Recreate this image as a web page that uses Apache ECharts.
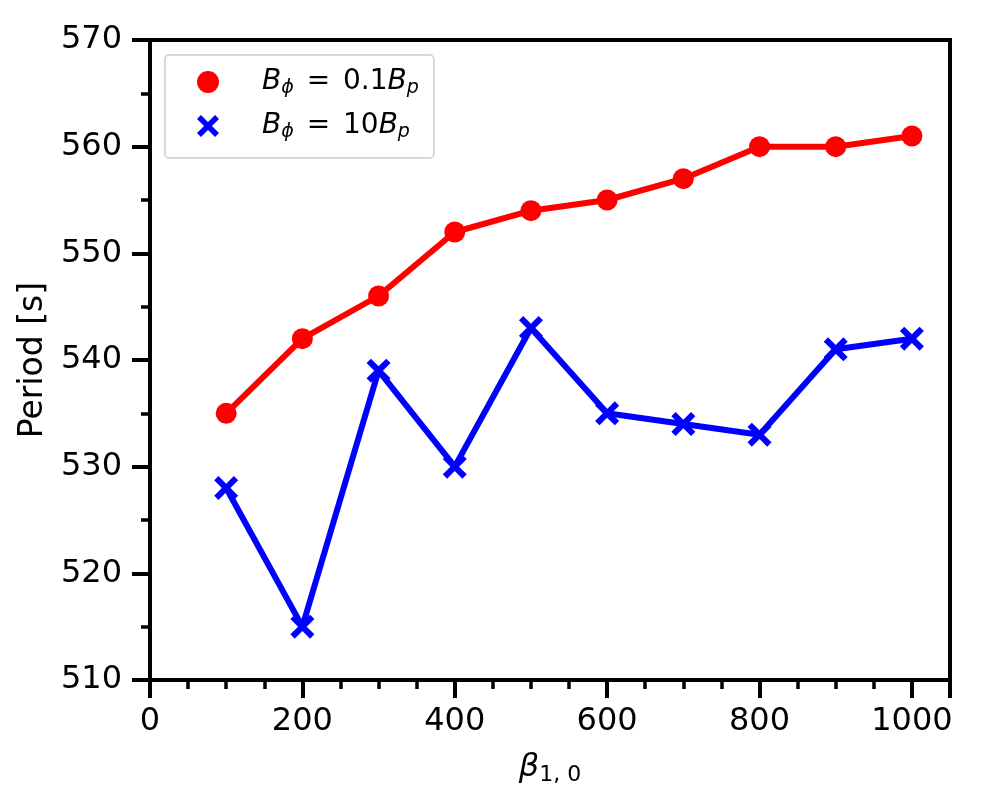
<!DOCTYPE html>
<html>
<head>
<meta charset="utf-8">
<script src="https://cdn.jsdelivr.net/npm/echarts@6/dist/echarts.min.js"></script>
<style>
html,body{margin:0;padding:0;background:#fff;}
#chart{width:1000px;height:800px;}
</style>
</head>
<body>
<div id="chart"></div>
<script>
// beta_{1,0} values
let beta = [100, 200, 300, 400, 500, 600, 700, 800, 900, 1000]
// period [s]
let periodLow = [535, 542, 546, 552, 554, 555, 557, 560, 560, 561]   // B_phi = 0.1 B_p
let periodHigh = [528, 515, 539, 530, 543, 535, 534, 533, 541, 542]  // B_phi = 10 B_p

let nameLow = "B_phi = 0.1B_p"
let nameHigh = "B_phi = 10B_p"

// thick "x" marker
let xPath = "path://M0,3.6 L3.6,0 L10,6.4 L16.4,0 L20,3.6 L13.6,10 L20,16.4 L16.4,20 L10,13.6 L3.6,20 L0,16.4 L6.4,10 Z"
let font = "DejaVu Sans"

function pairs(xs, ys){
    let out = []
    for(let i = 0; i < xs.length; i++){
        out.push([xs[i], ys[i]])
    }
    return out
}

var myChart = echarts.init(document.getElementById('chart'))

var option = {
    animation: false,
    backgroundColor: "#fff",
    grid: {
        left: 150, right: 50, top: 40, bottom: 120,
        outerBoundsMode: "none",
        containLabel: false,
        show: true, borderColor: "#000", borderWidth: 4
    },
    legend: {
        left: 165, top: 55,
        orient: "vertical",
        padding: [13, 15, 16, 32],
        itemGap: 14,
        itemWidth: 22, itemHeight: 22,
        backgroundColor: "#fff",
        borderColor: "#cccccc",
        borderWidth: 1.5,
        borderRadius: 4,
        data: [
            {name: nameLow, icon: "circle"},
            {name: nameHigh, icon: xPath}
        ],
        formatter: function(name){
            if(name == nameLow){
                return "{gap|}{i|B}{s|ϕ}{sp|}{n| = }{sp|}{n|0.1}{i|B}{s|p}"
            }
            return "{gap|}{i|B}{s|ϕ}{sp|}{n| = }{sp|}{n|10}{i|B}{s|p}"
        },
        textStyle: {
            fontFamily: font,
            color: "#000",
            rich: {
                gap: {width: 38, lineHeight: 32},
                sp: {width: 4, lineHeight: 32},
                i: {fontSize: 28, fontStyle: "italic", fontFamily: font, lineHeight: 32},
                n: {fontSize: 28, fontFamily: font, lineHeight: 32},
                s: {fontSize: 19, fontStyle: "italic", fontFamily: font, lineHeight: 14, verticalAlign: "bottom"}
            }
        }
    },
    xAxis: {
        type: "value",
        min: 0, max: 1050, interval: 200,
        name: "{b|β}{s|1, 0}",
        nameLocation: "middle",
        nameGap: 70,
        nameTextStyle: {
            rich: {
                b: {fontSize: 32, fontStyle: "italic", fontFamily: font, color: "#000", lineHeight: 36},
                s: {fontSize: 22, fontFamily: font, color: "#000", lineHeight: 16, verticalAlign: "bottom"}
            }
        },
        axisLine: {lineStyle: {color: "#000", width: 4}},
        axisTick: {length: 18, lineStyle: {color: "#000", width: 4}},
        minorTick: {show: true, splitNumber: 4, length: 9, lineStyle: {color: "#000", width: 3.5}},
        splitLine: {show: false},
        axisLabel: {
            margin: 26, fontSize: 32, fontFamily: font, color: "#000",
            showMaxLabel: false,
            formatter: function(v){ return String(v) }
        }
    },
    yAxis: {
        type: "value",
        min: 510, max: 570, interval: 10,
        name: "Period [s]",
        nameLocation: "middle",
        nameGap: 100,
        nameTextStyle: {fontSize: 33, fontFamily: font, color: "#000"},
        axisLine: {show: true, lineStyle: {color: "#000", width: 4}},
        axisTick: {show: true, length: 18, lineStyle: {color: "#000", width: 4}},
        minorTick: {show: true, splitNumber: 2, length: 9, lineStyle: {color: "#000", width: 3.5}},
        splitLine: {show: false},
        axisLabel: {margin: 28, fontSize: 32, fontFamily: font, color: "#000"}
    },
    series: [
        {
            name: nameLow,
            type: "line",
            data: pairs(beta, periodLow),
            color: "#ff0000",
            lineStyle: {width: 6, color: "#ff0000"},
            symbol: "circle",
            symbolSize: 21,
            itemStyle: {color: "#ff0000"}
        },
        {
            name: nameHigh,
            type: "line",
            data: pairs(beta, periodHigh),
            color: "#0000ff",
            lineStyle: {width: 6, color: "#0000ff"},
            symbol: xPath,
            symbolSize: 24,
            itemStyle: {color: "#0000ff"}
        }
    ]
}

myChart.setOption(option)
</script>
</body>
</html>
